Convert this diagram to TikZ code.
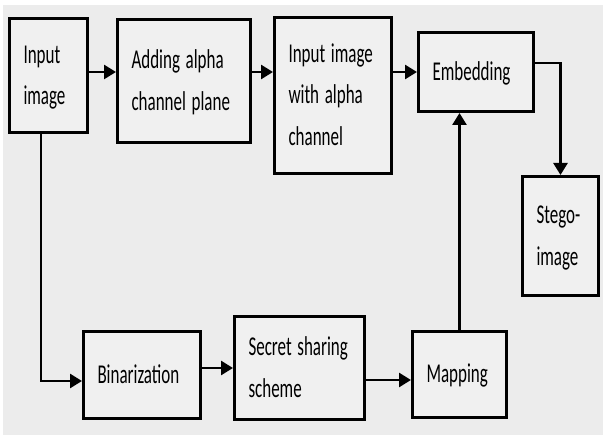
\documentclass[tikz,border=0pt]{standalone}
\usepackage{fontspec}
\setmainfont{Carlito}
\usepackage{graphicx}
\usetikzlibrary{arrows.meta}
\definecolor{bggray}{RGB}{236,236,236}
\definecolor{boxgray}{RGB}{240,240,240}
\newcommand{\boxtext}[1]{\scalebox{1}[1.6]{\begin{tabular}{@{}l@{}}#1\end{tabular}}}

\begin{document}
\begin{tikzpicture}[x=1pt,y=-1pt,
    block/.style={draw,line width=3pt,fill=boxgray,inner xsep=14pt,inner ysep=0pt,
      align=left,font=\fontsize{17}{26}\selectfont},
    flow/.style={line width=2.6pt,-{Triangle[length=12pt,width=14pt]}}]

        % Canvas
        \useasboundingbox (0,0) rectangle (603,435);
        \fill[bggray] (3,5) rectangle (603,435);

        % Upper row
        \node[block,text width=50pt,minimum height=114pt] (in) at (48.5,75.5)
            {\boxtext{Input\\image}};
        \node[block,text width=105pt,minimum height=123pt] (alpha) at (184,81)
            {\boxtext{Adding alpha\\channel plane}};
        \node[block,text width=89pt,minimum height=156pt] (inalpha) at (333,95.5)
            {\boxtext{Input image\\with alpha\\channel}};
        \node[block,text width=87pt,minimum height=79pt] (embed) at (476,72)
            {\boxtext{Embedding}};
        \node[block,text width=48pt,minimum height=119pt] (stego) at (560.5,236)
            {\boxtext{Stego-\\image}};

        % Lower row
        \node[block,text width=89pt,minimum height=87pt] (bin) at (142,375)
            {\boxtext{Binarization}};
        \node[block,text width=102pt,minimum height=103pt] (secret) at (299.5,368)
            {\boxtext{Secret sharing\\scheme}};
        \node[block,text width=66pt,minimum height=86pt] (map) at (459.5,374.5)
            {\boxtext{Mapping}};

        % Arrows
        \draw[flow] (in.east |- embed.west) -- (alpha.west |- embed.west);
        \draw[flow] (alpha.east |- embed.west) -- (inalpha.west |- embed.west);
        \draw[flow] (inalpha.east |- embed.west) -- (embed.west);
        \draw[flow] ([yshift=9pt]embed.east) -| (stego.north);
        \draw[flow] ([xshift=-7.5pt]in.south) |- ([yshift=-6pt]bin.west);
        \draw[flow] (bin.east |- secret.west) -- (secret.west);
        \draw[flow] ([yshift=-12pt]secret.east) -- ([yshift=-12pt]secret.east -| map.west);
        \draw[flow] (map.north) -- (map.north |- embed.south);

    \end{tikzpicture}
\end{document}
